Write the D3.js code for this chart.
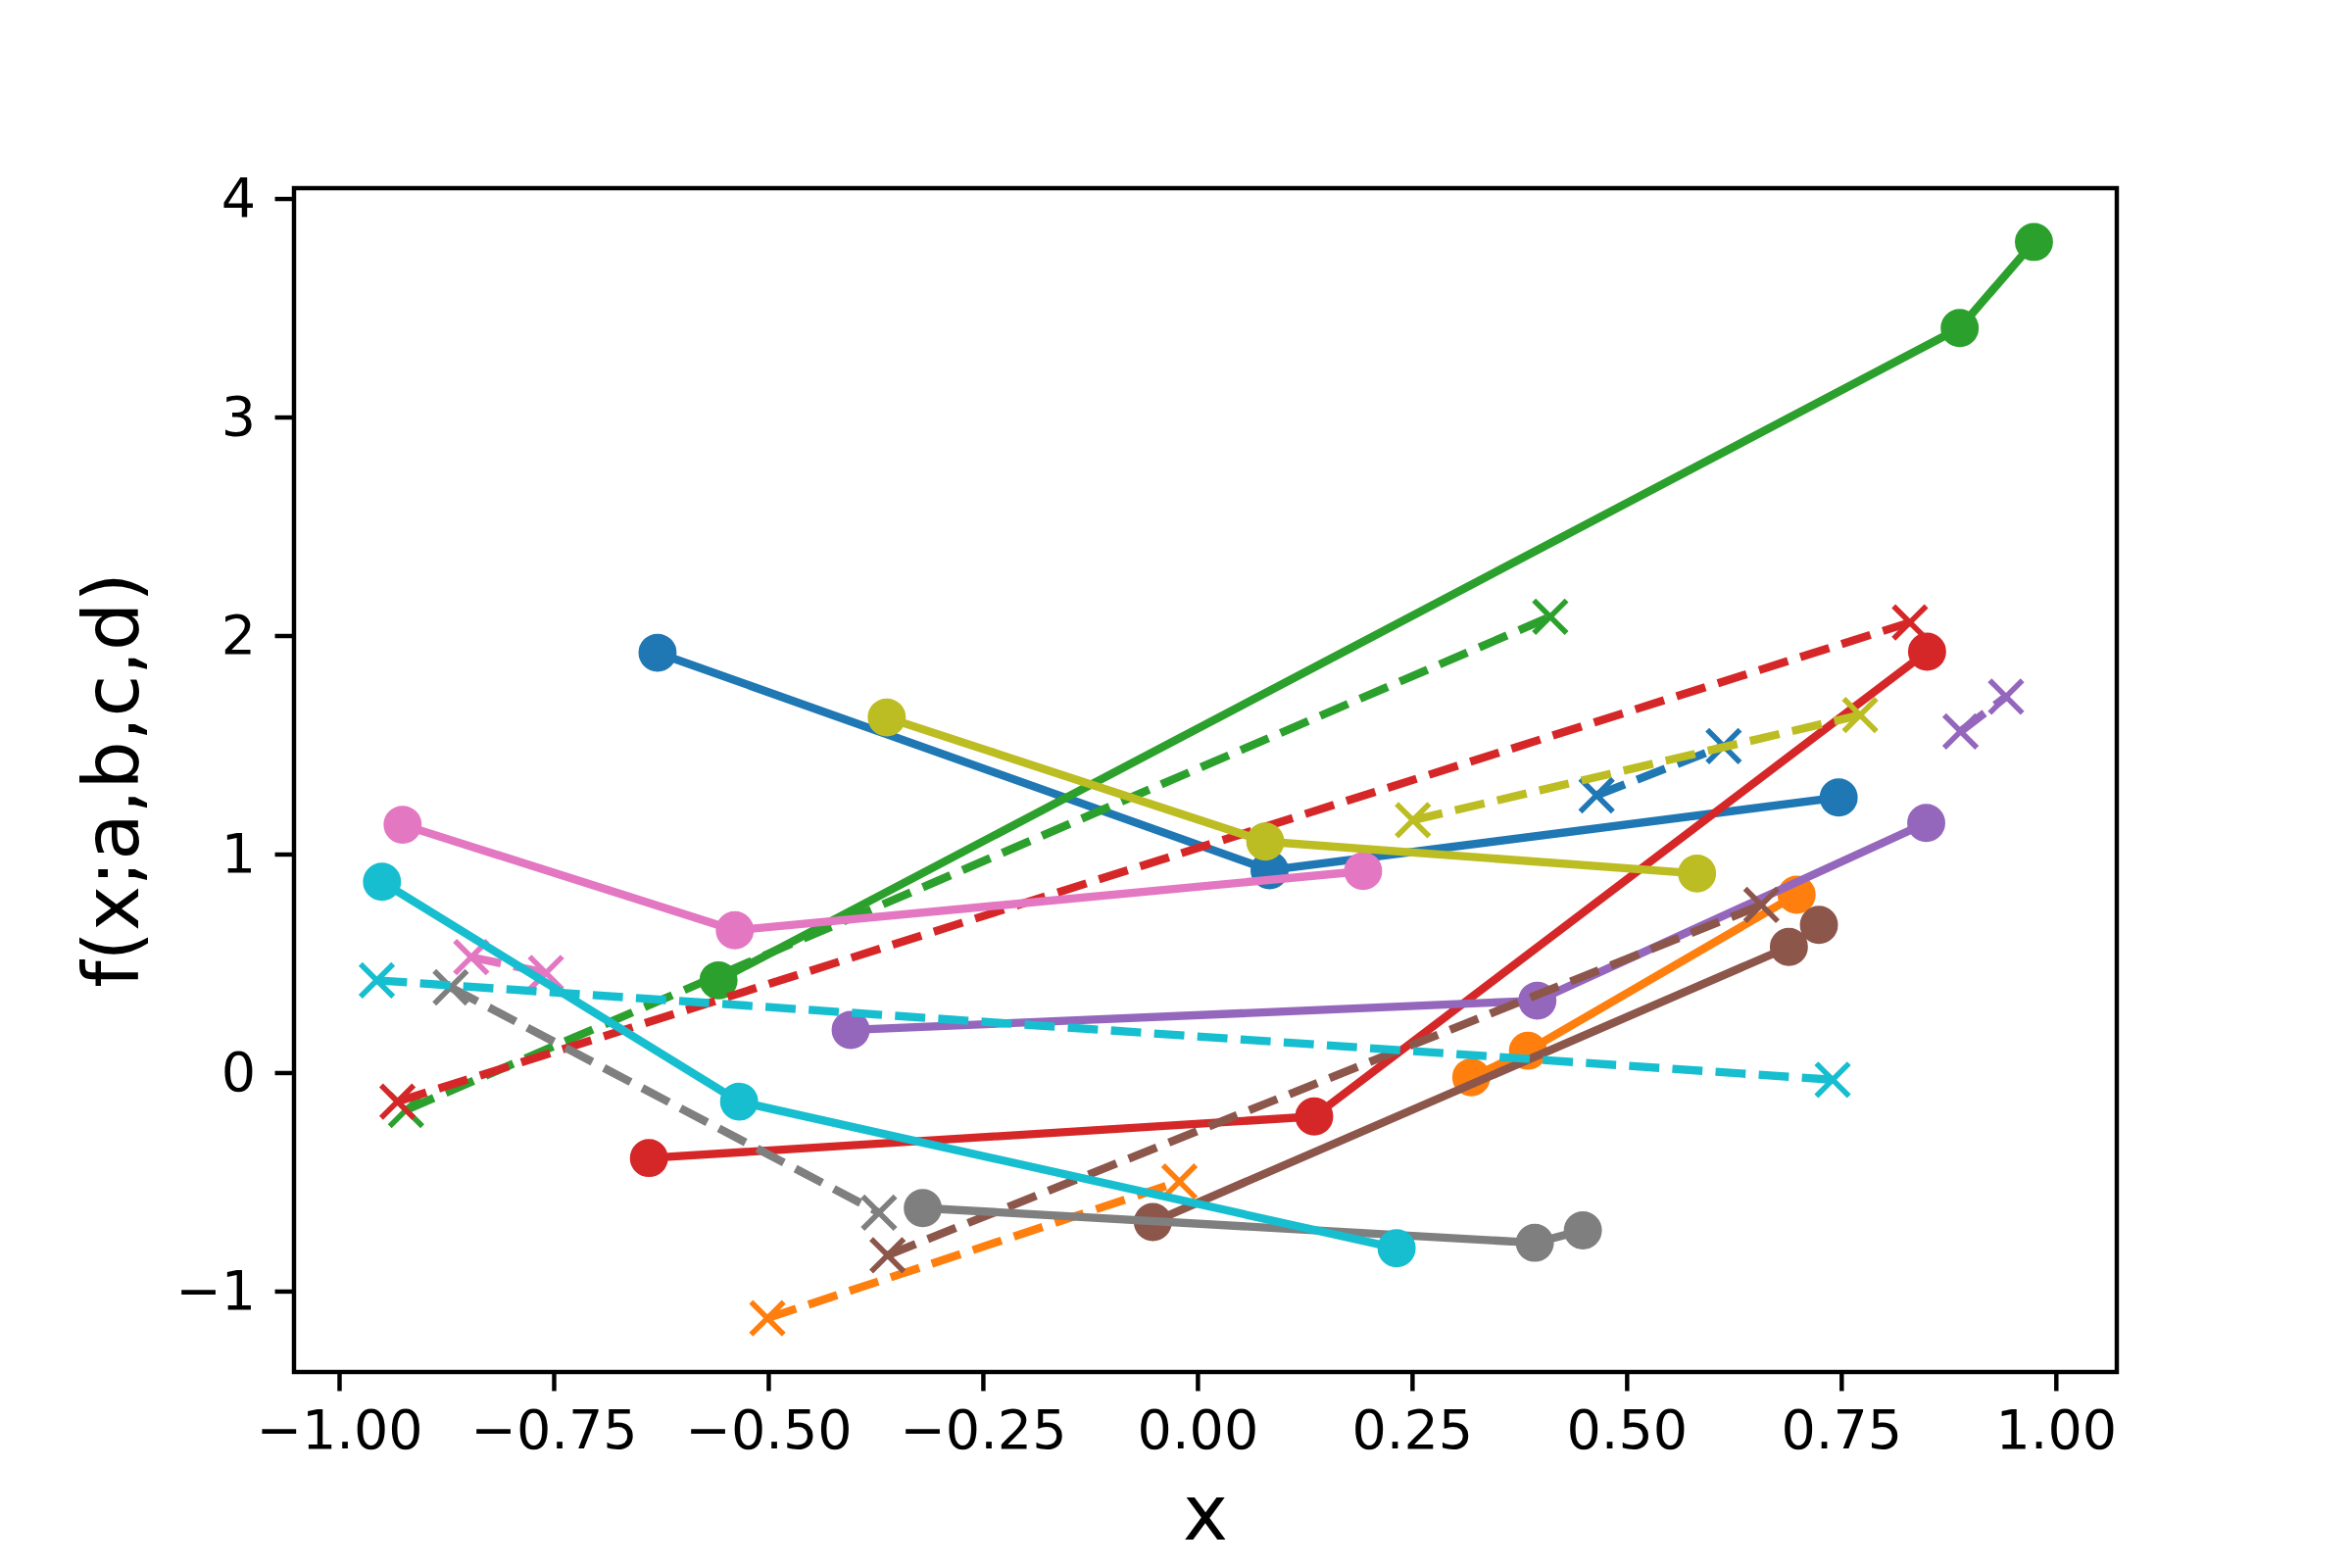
<!DOCTYPE html>
<html>
<head>
<meta charset="utf-8">
<script src="https://cdn.jsdelivr.net/npm/d3@7"></script>
<style>
  body { margin: 0; background: white; }
  text { font-family: "DejaVu Sans", sans-serif; }
</style>
</head>
<body>
<script>
//Define data (one row per series, tab10 order)
const colors = ['#1f77b4', '#ff7f0e', '#2ca02c', '#d62728', '#9467bd',
                '#8c564b', '#e377c2', '#7f7f7f', '#bcbd22', '#17becf'];

// solid lines with circle markers
const circleX = [
  [-0.629, 0.084, 0.747],
  [0.319, 0.385, 0.698],
  [-0.558, 0.888, 0.9745],
  [-0.639, 0.136, 0.850],
  [-0.404, 0.396, 0.849],
  [-0.052, 0.689, 0.724],
  [-0.926, -0.539, 0.193],
  [-0.320, 0.393, 0.449],
  [-0.362, 0.079, 0.582],
  [-0.950, -0.534, 0.232]
];
const circleY = [
  [1.921, 0.926, 1.259],
  [-0.022, 0.100, 0.814],
  [0.422, 3.407, 3.801],
  [-0.391, -0.201, 1.926],
  [0.195, 0.329, 1.142],
  [-0.684, 0.575, 0.676],
  [1.134, 0.651, 0.922],
  [-0.620, -0.779, -0.722],
  [1.625, 1.057, 0.911],
  [0.873, -0.133, -0.804]
];

// dashed lines with x markers
const crossX = [
  [0.465, 0.613],
  [-0.501, -0.021],
  [-0.922, 0.411],
  [-0.932, 0.830],
  [0.889, 0.942],
  [-0.361, 0.657],
  [-0.846, -0.759],
  [-0.870, -0.371],
  [0.251, 0.772],
  [-0.956, 0.740]
];
const crossY = [
  [1.269, 1.494],
  [-1.124, -0.499],
  [-0.171, 2.086],
  [-0.133, 2.060],
  [1.561, 1.720],
  [-0.836, 0.767],
  [0.528, 0.456],
  [0.390, -0.641],
  [1.155, 1.636],
  [0.422, -0.033]
];

const xTicks = [-1, -0.75, -0.5, -0.25, 0, 0.25, 0.5, 0.75, 1];
const yTicks = [-1, 0, 1, 2, 3, 4];

// Create SVG
let
  width = 2400,
  height = 1600;

let margin = {
  top: 192,
  bottom: 200,
  left: 300,
  right: 240
};

// matplotlib sizes at 400 dpi
const pt = 400 / 72;
const lw = 1.5 * pt,
  ms = 6 * pt,
  mew = 1 * pt;

let svg = d3
  .select('body')
  .append('svg')
    .attr('width', width)
    .attr('height', height)
    .style('background', 'white');

// Define Scales (5% margins like matplotlib autoscale)
let allX = circleX.flat().concat(crossX.flat());
let allY = circleY.flat().concat(crossY.flat());
let xExt = d3.extent(allX), yExt = d3.extent(allY);
let xPad = (xExt[1] - xExt[0]) * 0.05,
  yPad = (yExt[1] - yExt[0]) * 0.05;

let xScale = d3.scaleLinear()
  .domain([xExt[0] - xPad, xExt[1] + xPad])
  .range([margin.left, width - margin.right]);

let yScale = d3.scaleLinear()
  .domain([yExt[0] - yPad, yExt[1] + yPad])
  .range([height - margin.bottom, margin.top]);

let line = d3.line()
  .x(d => xScale(d[0]))
  .y(d => yScale(d[1]));

//Draw series: solid + circles, then dashed + crosses
colors.forEach(function(c, i) {
  let solid = circleX[i].map((x, j) => [x, circleY[i][j]]);
  let dashed = crossX[i].map((x, j) => [x, crossY[i][j]]);

  let g = svg.append('g');
  g.append('path')
    .datum(solid)
    .attr('d', line)
    .attr('fill', 'none')
    .attr('stroke', c)
    .attr('stroke-width', lw)
    .attr('stroke-linejoin', 'round')
    .attr('stroke-linecap', 'square');
  g.selectAll('circle')
    .data(solid)
    .enter()
    .append('circle')
      .attr('cx', d => xScale(d[0]))
      .attr('cy', d => yScale(d[1]))
      .attr('r', ms / 2)
      .attr('fill', c)
      .attr('stroke', c)
      .attr('stroke-width', mew);

  let h = svg.append('g');
  h.append('path')
    .datum(dashed)
    .attr('d', line)
    .attr('fill', 'none')
    .attr('stroke', c)
    .attr('stroke-width', lw)
    .attr('stroke-dasharray', (3.7 * lw) + ',' + (1.6 * lw));
  h.selectAll('.cross')
    .data(dashed)
    .enter()
    .append('path')
      .attr('class', 'cross')
      .attr('transform', d => `translate(${xScale(d[0])},${yScale(d[1])})`)
      .attr('d', `M${-ms / 2},${-ms / 2}L${ms / 2},${ms / 2}M${-ms / 2},${ms / 2}L${ms / 2},${-ms / 2}`)
      .attr('fill', 'none')
      .attr('stroke', c)
      .attr('stroke-width', mew);
});

//Draw Axes
const tickLen = 3.5 * pt, tickPad = 3.5 * pt, tickFont = 10 * pt;

let xAxis = svg
  .append('g')
    .attr('transform', `translate(0,${height - margin.bottom})`)
    .call(d3.axisBottom(xScale)
      .tickValues(xTicks)
      .tickFormat(d3.format('.2f'))
      .tickSize(tickLen)
      .tickPadding(tickPad));

let yAxis = svg
  .append('g')
    .attr('transform', `translate(${margin.left},0)`)
    .call(d3.axisLeft(yScale)
      .tickValues(yTicks)
      .tickFormat(d3.format('d'))
      .tickSize(tickLen)
      .tickPadding(tickPad));

[xAxis, yAxis].forEach(function(ax) {
  ax.select('.domain').remove();
  ax.selectAll('line')
    .attr('stroke', 'black')
    .attr('stroke-width', 0.8 * pt);
  ax.selectAll('text')
    .attr('fill', 'black')
    .style('font-size', tickFont + 'px')
    .style('font-family', '"DejaVu Sans", sans-serif');
});

// frame
svg.append('rect')
  .attr('x', margin.left)
  .attr('y', margin.top)
  .attr('width', width - margin.left - margin.right)
  .attr('height', height - margin.top - margin.bottom)
  .attr('fill', 'none')
  .attr('stroke', 'black')
  .attr('stroke-width', 0.8 * pt);

//Add labels
svg.append('text')
  .attr('x', (margin.left + width - margin.right) / 2)
  .attr('y', 1571)
  .attr('text-anchor', 'middle')
  .style('font-size', (14 * pt) + 'px')
  .text('x');

svg.append('text')
  .attr('transform', `translate(141,${(margin.top + height - margin.bottom) / 2}) rotate(-90)`)
  .attr('text-anchor', 'middle')
  .style('font-size', (14 * pt) + 'px')
  .text('f(x;a,b,c,d)');
</script>
</body>
</html>
